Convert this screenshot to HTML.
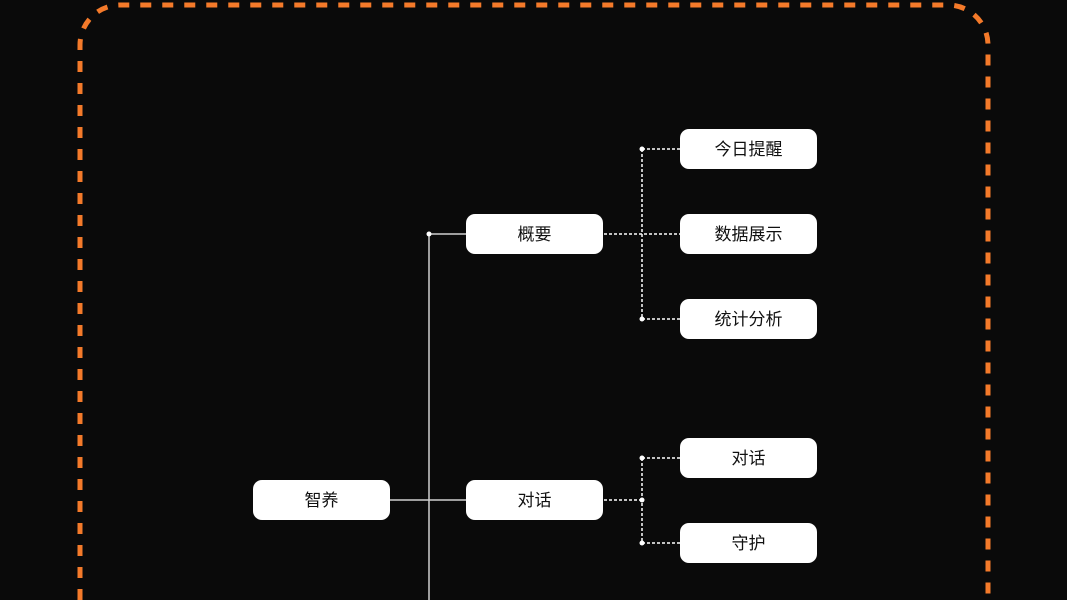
<!DOCTYPE html>
<html><head><meta charset="utf-8"><style>
html,body{margin:0;background:#0a0a0a;width:1067px;height:600px;overflow:hidden}
.n{position:absolute;width:137px;height:40px;background:#fff;border-radius:9px;color:#111;font:17px/20px "Liberation Sans","Noto Sans CJK SC",sans-serif;display:flex;align-items:center;justify-content:center;padding-top:1px;box-sizing:border-box}
</style></head><body>
<svg width="1067" height="600" style="position:absolute;left:0;top:0;display:block">
<path d="M80 600V45A40 40 0 0 1 120 5H948A40 40 0 0 1 988 45V600" fill="none" stroke="#f47a2a" stroke-width="5" stroke-dasharray="11 11"/>
<g stroke="#cfcfcf" stroke-width="1.5" fill="none">
<path d="M429 600V234H466M390 500H466"/>
</g>
<g stroke="#fff" stroke-width="1.5" fill="none" stroke-dasharray="3 2">
<path d="M642 149V319M642 149H680M604 234H680M642 319H680"/>
<path d="M642 458V543M642 458H680M604 500H642M642 543H680"/>
</g>
<g fill="#fff">
<circle cx="429" cy="234" r="2.5"/><circle cx="642" cy="149" r="2.5"/><circle cx="642" cy="319" r="2.5"/>
<circle cx="642" cy="458" r="2.5"/><circle cx="642" cy="500" r="2.5"/><circle cx="642" cy="543" r="2.5"/>
</g>
</svg>
<div class="n" style="left:253px;top:480px">智养</div>
<div class="n" style="left:466px;top:214px">概要</div>
<div class="n" style="left:466px;top:480px">对话</div>
<div class="n" style="left:680px;top:129px">今日提醒</div>
<div class="n" style="left:680px;top:214px">数据展示</div>
<div class="n" style="left:680px;top:299px">统计分析</div>
<div class="n" style="left:680px;top:438px">对话</div>
<div class="n" style="left:680px;top:523px">守护</div>
</body></html>
